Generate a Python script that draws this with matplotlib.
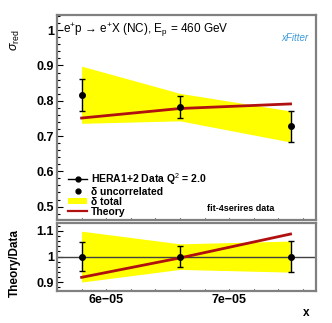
import matplotlib
matplotlib.use("Agg")
import matplotlib.pyplot as plt
from matplotlib.lines import Line2D
from matplotlib.patches import Patch
from matplotlib.ticker import MultipleLocator, FixedLocator, FuncFormatter
import numpy as np

plt.rcParams['font.family'] = ['Liberation Sans', 'DejaVu Sans']
plt.rcParams['mathtext.fontset'] = 'custom'
plt.rcParams['mathtext.rm'] = 'Liberation Sans'
plt.rcParams['mathtext.it'] = 'Liberation Sans:italic'
plt.rcParams['mathtext.bf'] = 'Liberation Sans:bold'

# data
x_vals = [5.8e-5, 6.6e-5, 7.5e-5]
sigma = [0.817, 0.782, 0.727]
err_unc = [0.045, 0.031, 0.043]
err_tot = [0.081, 0.039, 0.044]
theory = [0.751, 0.778, 0.791]

x = np.array(x_vals)
s = np.array(sigma)
unc = np.array(err_unc)
tot = np.array(err_tot)
th = np.array(theory)

FRAME = '#808080'
RED = '#b01010'
YELLOW = '#ffff00'

fig = plt.figure(figsize=(3.32, 3.23), dpi=100)
ax = fig.add_axes([57/332, 1-220/323, 259/332, 205/323])
axr = fig.add_axes([57/332, 1-291/323, 259/332, 68/323])

def style(a):
    for sp in a.spines.values():
        sp.set_color(FRAME)
        sp.set_linewidth(1.6)
    a.tick_params(which='both', direction='in', top=False, right=False,
                  labelsize=9, pad=2)
    a.tick_params(which='major', length=4.5, width=0.8)
    a.tick_params(which='minor', length=2.5, width=0.8)
    a.tick_params(axis='x', which='both', length=1.5)
    for lab in a.get_yticklabels() + a.get_xticklabels():
        lab.set_fontweight('bold')

# top panel
ax.fill_between(x, s - tot, s + tot, color=YELLOW, lw=0)
ax.plot(x, th, color=RED, lw=2)
ax.errorbar(x, s, yerr=unc, fmt='o', color='black', ms=4, capsize=2,
            elinewidth=1, capthick=1)
ax.set_xlim(5.60e-5, 7.707e-5)
ax.set_ylim(0.462, 1.043)
ax.yaxis.set_major_locator(FixedLocator([0.5, 0.6, 0.7, 0.8, 0.9, 1.0]))
ax.yaxis.set_major_formatter(FuncFormatter(lambda v, p: '1' if abs(v - 1) < 1e-9 else f'{v:.1f}'))
ax.yaxis.set_minor_locator(MultipleLocator(0.02))
ax.xaxis.set_major_locator(FixedLocator([6e-5, 7e-5]))
ax.xaxis.set_minor_locator(MultipleLocator(0.2e-5))
ax.set_xticklabels([])
style(ax)

ax.text(0.022, 0.925, r'e$^{+}$p → e$^{+}$X (NC), E$_{\mathrm{p}}$ = 460 GeV',
        transform=ax.transAxes, fontsize=8.5, va='center', ha='left')
ax.text(0.92, 0.89, 'xFitter', transform=ax.transAxes, fontsize=7,
        style='italic', color='#3a9ad9', ha='center', va='center')
ax.text(0.71, 0.055, 'fit-4serires data', transform=ax.transAxes,
        fontsize=6.5, fontweight='bold', ha='center', va='center')

handles = [
    Line2D([], [], color='black', marker='o', ms=3.5, lw=1),
    Line2D([], [], color='black', marker='o', ms=3.5, lw=0),
    Patch(facecolor=YELLOW, edgecolor='none'),
    Line2D([], [], color=RED, lw=1.6),
]
labels = [r'HERA1+2 Data Q$^{2}$ = 2.0', 'δ uncorrelated',
          'δ total', 'Theory']
leg = ax.legend(handles, labels, loc='lower left', bbox_to_anchor=(0.015, -0.02),
                frameon=False, fontsize=7.5, handlelength=1.8, handletextpad=0.35,
                labelspacing=0.0, borderpad=0.2, handleheight=0.6)
for t in leg.get_texts():
    t.set_fontweight('bold')

# ratio panel
axr.fill_between(x, 1 - tot / s, 1 + tot / s, color=YELLOW, lw=0)
axr.axhline(1.0, color='#404040', lw=1)
axr.plot(x, th / s, color=RED, lw=2)
axr.errorbar(x, np.ones_like(s), yerr=unc / s, fmt='o', color='black', ms=4,
             capsize=2, elinewidth=1, capthick=1)
axr.set_xlim(5.60e-5, 7.707e-5)
axr.set_ylim(0.866, 1.131)
axr.yaxis.set_major_locator(FixedLocator([0.9, 1.0, 1.1]))
axr.yaxis.set_major_formatter(FuncFormatter(lambda v, p: '1' if abs(v - 1) < 1e-9 else f'{v:.1f}'))
axr.yaxis.set_minor_locator(MultipleLocator(0.02))
axr.xaxis.set_major_locator(FixedLocator([6e-5, 7e-5]))
axr.xaxis.set_major_formatter(FuncFormatter(lambda v, p: f'{round(v * 1e5):d}e\u221205'))
axr.xaxis.set_minor_locator(MultipleLocator(0.2e-5))
style(axr)

fig.text(15/332, 1-40/323, r'$\sigma_{\mathrm{red}}$', rotation=90,
         fontsize=9, ha='center', va='center')
fig.text(15/332, 1-263/323, 'Theory/Data', rotation=90, fontsize=8.5,
         fontweight='bold', ha='center', va='center')
fig.text(306/332, 1-313/323, 'x', fontsize=8.5, fontweight='bold',
         ha='center', va='center')

fig.savefig('out.png', dpi=100)
